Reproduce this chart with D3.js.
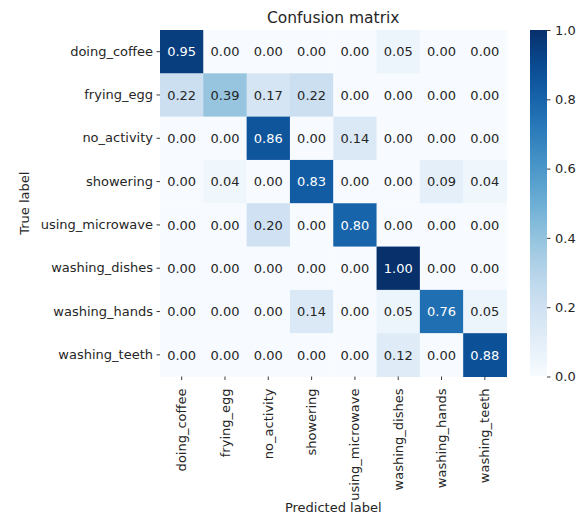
<!DOCTYPE html>
<html>
<head>
<meta charset="utf-8">
<script src="https://cdn.jsdelivr.net/npm/d3@7/dist/d3.min.js"></script>
<style>
  html, body { margin: 0; padding: 0; background: #ffffff; }
  svg { display: block; font-family: "DejaVu Sans", sans-serif; }
</style>
</head>
<body>
<svg id="chart" width="582" height="518"></svg>
<script>
// Class names (rows = true label, columns = predicted label)
const classes = ["doing_coffee", "frying_egg", "no_activity", "showering",
                 "using_microwave", "washing_dishes", "washing_hands", "washing_teeth"];

// Row-normalised confusion matrix, one array per true class
const doingCoffee    = [0.95, 0.00, 0.00, 0.00, 0.00, 0.05, 0.00, 0.00];
const fryingEgg      = [0.22, 0.39, 0.17, 0.22, 0.00, 0.00, 0.00, 0.00];
const noActivity     = [0.00, 0.00, 0.86, 0.00, 0.14, 0.00, 0.00, 0.00];
const showering      = [0.00, 0.04, 0.00, 0.83, 0.00, 0.00, 0.09, 0.04];
const usingMicrowave = [0.00, 0.00, 0.20, 0.00, 0.80, 0.00, 0.00, 0.00];
const washingDishes  = [0.00, 0.00, 0.00, 0.00, 0.00, 1.00, 0.00, 0.00];
const washingHands   = [0.00, 0.00, 0.00, 0.14, 0.00, 0.05, 0.76, 0.05];
const washingTeeth   = [0.00, 0.00, 0.00, 0.00, 0.00, 0.12, 0.00, 0.88];

const matrix = [doingCoffee, fryingEgg, noActivity, showering,
                usingMicrowave, washingDishes, washingHands, washingTeeth];

// Colour bar ticks
const colorbarTicks = [0.0, 0.2, 0.4, 0.6, 0.8, 1.0];

const title = "Confusion matrix";
const xTitle = "Predicted label";
const yTitle = "True label";

const svg = d3.select("#chart");
const textColor = "#262626";
const fontSize = 13;

// Heatmap area
const hmLeft = 160, hmTop = 30, hmSize = 346.5;
const x = d3.scaleBand().domain(classes).range([hmLeft, hmLeft + hmSize]);
const y = d3.scaleBand().domain(classes).range([hmTop, hmTop + hmSize]);
const color = d3.scaleSequential(d3.interpolateBlues).domain([0, 1]);

const cells = [];
matrix.forEach((row, i) => row.forEach((v, j) => cells.push({ r: classes[i], c: classes[j], v })));

svg.append("g").selectAll("rect")
  .data(cells).join("rect")
  .attr("x", d => x(d.c))
  .attr("y", d => y(d.r))
  .attr("width", x.bandwidth() + 0.5)
  .attr("height", y.bandwidth() + 0.5)
  .attr("fill", d => color(d.v));

svg.append("g").selectAll("text")
  .data(cells).join("text")
  .attr("x", d => x(d.c) + x.bandwidth() / 2)
  .attr("y", d => y(d.r) + y.bandwidth() / 2)
  .attr("dy", "0.36em")
  .attr("text-anchor", "middle")
  .attr("font-size", fontSize)
  .attr("fill", d => d.v > 0.55 ? "#ffffff" : textColor)
  .text(d => d.v.toFixed(2));

// Axes
const xAxis = svg.append("g")
  .attr("transform", `translate(0,${hmTop + hmSize})`)
  .call(d3.axisBottom(x).tickSize(3.5).tickPadding(3.5));
xAxis.select(".domain").remove();
xAxis.selectAll(".tick line").attr("stroke", textColor).attr("stroke-width", 0.9);
xAxis.selectAll(".tick text")
  .attr("font-size", fontSize)
  .attr("font-family", "DejaVu Sans, sans-serif")
  .attr("fill", textColor)
  .attr("transform", "rotate(-90)")
  .attr("text-anchor", "end")
  .attr("x", -12)
  .attr("y", 0)
  .attr("dy", "0.35em");

const yAxis = svg.append("g")
  .attr("transform", `translate(${hmLeft},0)`)
  .call(d3.axisLeft(y).tickSize(3.5).tickPadding(3.5));
yAxis.select(".domain").remove();
yAxis.selectAll(".tick line").attr("stroke", textColor).attr("stroke-width", 0.9);
yAxis.selectAll(".tick text")
  .attr("font-size", fontSize)
  .attr("font-family", "DejaVu Sans, sans-serif")
  .attr("fill", textColor);

// Titles
svg.append("text")
  .attr("x", hmLeft + hmSize / 2).attr("y", 23)
  .attr("text-anchor", "middle")
  .attr("font-size", 15.5)
  .attr("fill", textColor)
  .text(title);

svg.append("text")
  .attr("x", hmLeft + hmSize / 2).attr("y", 512)
  .attr("text-anchor", "middle")
  .attr("font-size", fontSize)
  .attr("fill", textColor)
  .text(xTitle);

svg.append("text")
  .attr("transform", `translate(29,${hmTop + hmSize / 2}) rotate(-90)`)
  .attr("text-anchor", "middle")
  .attr("font-size", fontSize)
  .attr("fill", textColor)
  .text(yTitle);

// Colour bar
const cbX = 530, cbW = 17;
const cbScale = d3.scaleLinear().domain([0, 1]).range([hmTop + hmSize, hmTop]);
const grad = svg.append("defs").append("linearGradient")
  .attr("id", "blues").attr("x1", 0).attr("y1", 1).attr("x2", 0).attr("y2", 0);
d3.range(0, 1.0001, 0.05).forEach(t => {
  grad.append("stop").attr("offset", t).attr("stop-color", color(t));
});
svg.append("rect")
  .attr("x", cbX).attr("y", hmTop)
  .attr("width", cbW).attr("height", hmSize)
  .attr("fill", "url(#blues)");

const cbAxis = svg.append("g")
  .attr("transform", `translate(${cbX + cbW},0)`)
  .call(d3.axisRight(cbScale).tickValues(colorbarTicks).tickFormat(d3.format(".1f"))
    .tickSize(3.5).tickPadding(4.5));
cbAxis.select(".domain").remove();
cbAxis.selectAll(".tick line").attr("stroke", textColor).attr("stroke-width", 0.9);
cbAxis.selectAll(".tick text")
  .attr("font-size", fontSize)
  .attr("font-family", "DejaVu Sans, sans-serif")
  .attr("fill", textColor);
</script>
</body>
</html>
